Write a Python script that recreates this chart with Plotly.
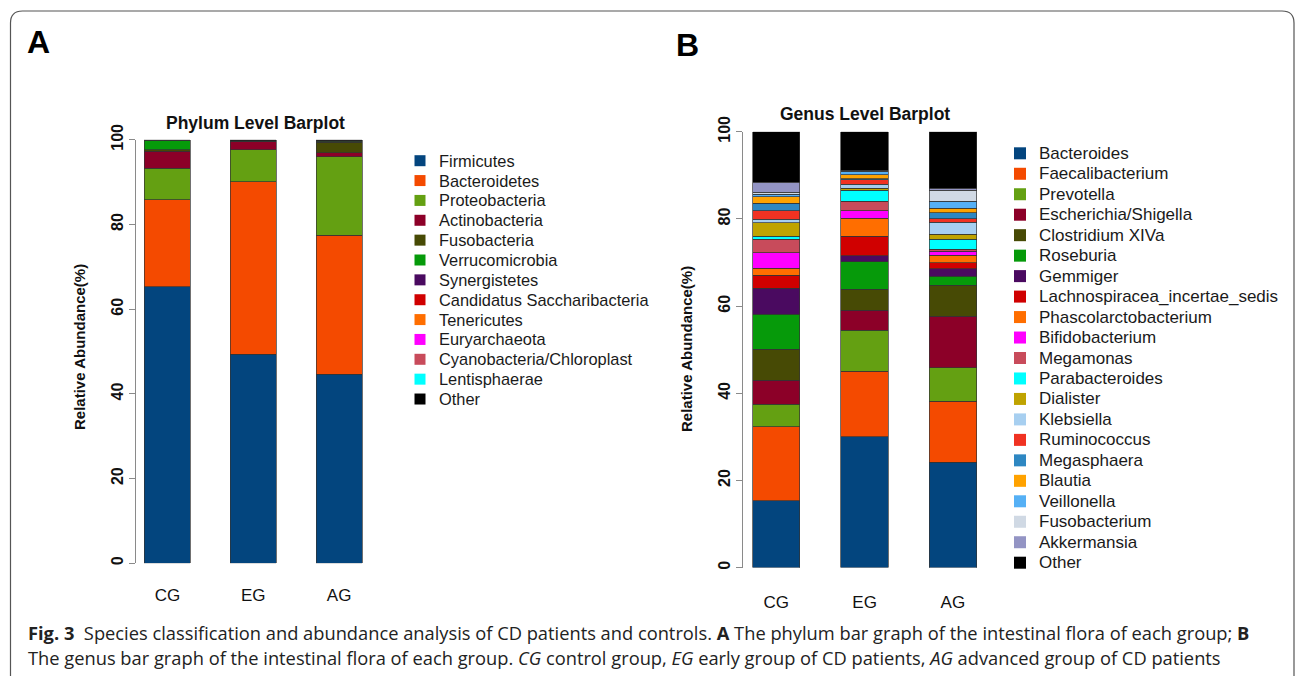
import plotly.graph_objects as go

W, H = 1295, 676

groups = ["CG", "EG", "AG"]

phyla = ["Firmicutes", "Bacteroidetes", "Proteobacteria", "Actinobacteria", "Fusobacteria",
         "Verrucomicrobia", "Synergistetes", "Candidatus Saccharibacteria", "Tenericutes",
         "Euryarchaeota", "Cyanobacteria/Chloroplast", "Lentisphaerae", "Other"]
phylum_colors = ["#03457e", "#f44a00", "#64a012", "#8c0028", "#474a05", "#069a0a", "#4a0a60",
                 "#d00000", "#ff6e00", "#ff00ff", "#c84b5b", "#00ffff", "#000000"]
phylum_cg = [65.3, 20.5, 7.5, 4.0, 0.4, 2.1, 0.02, 0.02, 0.03, 0.02, 0.01, 0.0, 0.1]
phylum_eg = [49.4, 40.7, 7.5, 2.0, 0.1, 0.02, 0.01, 0.02, 0.02, 0.01, 0.01, 0.0, 0.2]
phylum_ag = [44.7, 32.8, 18.5, 1.0, 2.4, 0.3, 0.02, 0.03, 0.01, 0.01, 0.01, 0.01, 0.2]

genera = ["Bacteroides", "Faecalibacterium", "Prevotella", "Escherichia/Shigella", "Clostridium XIVa",
          "Roseburia", "Gemmiger", "Lachnospiracea_incertae_sedis", "Phascolarctobacterium",
          "Bifidobacterium", "Megamonas", "Parabacteroides", "Dialister", "Klebsiella",
          "Ruminococcus", "Megasphaera", "Blautia", "Veillonella", "Fusobacterium",
          "Akkermansia", "Other"]
genus_colors = ["#03457e", "#f44a00", "#64a012", "#8c0028", "#474a05", "#069a0a", "#4a0a60",
                "#d00000", "#ff6e00", "#ff00ff", "#c84b5b", "#00ffff", "#bfa300", "#a7cff0",
                "#f03222", "#2e87c2", "#ffa200", "#55b0f5", "#d0d9e4", "#9394c4", "#000000"]
genus_cg = [15.3, 17.0, 5.2, 5.5, 7.1, 8.0, 6.0, 3.0, 1.6, 3.6, 3.0, 0.7, 3.1, 0.8, 2.0, 1.7,
            1.5, 0.6, 0.4, 2.3, 11.6]
genus_eg = [30.0, 15.0, 9.5, 4.5, 4.9, 6.3, 1.4, 4.4, 4.2, 1.7, 2.2, 2.5, 0.4, 1.0, 1.0, 0.2,
            0.9, 0.9, 0.1, 0.05, 8.85]
genus_ag = [24.2, 14.0, 7.7, 11.8, 7.1, 2.0, 1.8, 1.4, 1.7, 0.9, 0.4, 2.3, 1.2, 2.8, 0.7, 1.4,
            1.1, 1.6, 2.5, 0.4, 13.0]

y_ticks = [0, 20, 40, 60, 80, 100]

FONT = "Liberation Sans"
BAR_W = 0.536


def px(x):
    return x / W


def py(y):
    return 1 - y / H


fig = go.Figure()

for i, name in enumerate(phyla):
    fig.add_trace(go.Bar(
        x=[0, 1, 2], y=[phylum_cg[i], phylum_eg[i], phylum_ag[i]], name=name,
        marker=dict(color=phylum_colors[i], line=dict(color="#333333", width=0.7)),
        width=BAR_W, xaxis="x", yaxis="y", showlegend=False))

for i, name in enumerate(genera):
    fig.add_trace(go.Bar(
        x=[0, 1, 2], y=[genus_cg[i], genus_eg[i], genus_ag[i]], name=name,
        marker=dict(color=genus_colors[i], line=dict(color="#333333", width=0.7)),
        width=BAR_W, xaxis="x2", yaxis="y2", showlegend=False))

yaxis_common = dict(range=[0, 100], showline=True, linecolor="#8a8a8a", linewidth=1.2,
                    ticks="outside", ticklen=6, tickcolor="#8a8a8a", tickwidth=1.2,
                    tickvals=y_ticks, tickangle=-90, showgrid=False, zeroline=False,
                    automargin=False,
                    tickfont=dict(family=FONT, size=16, color="#111", weight="bold"),
                    ticklabelstandoff=0)
xaxis_common = dict(tickvals=[0, 1, 2], ticktext=groups, ticks="", showline=False,
                    showgrid=False, zeroline=False, automargin=False,
                    tickfont=dict(family=FONT, size=17, color="#111"))

fig.update_layout(
    template="none",
    width=W, height=H, autosize=False,
    margin=dict(l=0, r=0, t=0, b=0, pad=0, autoexpand=False),
    paper_bgcolor="white", plot_bgcolor="white",
    barmode="stack", showlegend=False,
    xaxis=dict(domain=[px(136), px(382)], range=[-0.367, 2.5], anchor="y",
               ticklabelstandoff=20, **xaxis_common),
    yaxis=dict(domain=[py(563.3), py(139.8)], anchor="x", **yaxis_common),
    xaxis2=dict(domain=[px(743), px(997)], range=[-0.377, 2.5], anchor="y2",
                ticklabelstandoff=22, **xaxis_common),
    yaxis2=dict(domain=[py(567.6), py(131.8)], anchor="x2", **yaxis_common),
)

ann = []
shapes = []


def text_at(t, x, y, size, angle=0, family=FONT, color="#111", xanchor="center"):
    ann.append(dict(text=t, x=px(x), y=py(y), xref="paper", yref="paper",
                    xanchor=xanchor, yanchor="middle", showarrow=False, textangle=angle,
                    font=dict(family=family, size=size, color=color)))


# Panel letters and titles
text_at("<b>A</b>", 38.5, 42, 32, color="#000")
text_at("<b>B</b>", 687.5, 45.5, 32, color="#000")
text_at("<b>Phylum Level Barplot</b>", 255, 123, 17.5)
text_at("<b>Genus Level Barplot</b>", 865, 114, 17.5)
text_at("<b>Relative Abundance(%)</b>", 79, 347, 15, angle=-90)
text_at("<b>Relative Abundance(%)</b>", 686, 349, 15, angle=-90)


def add_legend(names, colors, sq_cx, text_x, y0, dy, sq, size):
    for i, (n, c) in enumerate(zip(names, colors)):
        yc = y0 + dy * i
        shapes.append(dict(type="rect", xref="paper", yref="paper",
                           x0=px(sq_cx - sq / 2), x1=px(sq_cx + sq / 2),
                           y0=py(yc + sq / 2), y1=py(yc - sq / 2),
                           fillcolor=c, line=dict(width=0)))
        text_at(n, text_x, yc, size, color="#1a1a1a", xanchor="left")


add_legend(phyla, phylum_colors, 420, 437, 160.7, 19.86, 11, 16.4)
add_legend(genera, genus_colors, 1020, 1037, 153.3, 20.47, 12, 17)

# Caption
cap1 = ("<b>Fig. 3</b>  Species classification and abundance analysis of CD patients and controls. "
        "<b>A</b> The phylum bar graph of the intestinal flora of each group; <b>B</b>")
cap2 = ("The genus bar graph of the intestinal flora of each group. <i>CG</i> control group, "
        "<i>EG</i> early group of CD patients, <i>AG</i> advanced group of CD patients")
text_at(cap1, 26, 632, 18.3, family="Open Sans", color="#222", xanchor="left")
text_at(cap2, 26, 657, 18.3, family="Open Sans", color="#222", xanchor="left")

# Rounded frame
L, T, R, B, r = 10.5, 11.0, 1294.0, 690.0, 12.0
path = (f"M {px(L)},{py(B)} L {px(L)},{py(T + r)} Q {px(L)},{py(T)} {px(L + r)},{py(T)} "
        f"L {px(R - r)},{py(T)} Q {px(R)},{py(T)} {px(R)},{py(T + r)} L {px(R)},{py(B)}")
shapes.append(dict(type="path", xref="paper", yref="paper", path=path,
                   line=dict(color="#555555", width=1.2)))

fig.update_layout(annotations=ann, shapes=shapes)

fig.write_html("out.html", config={"displayModeBar": False},
               post_script="document.body.style.margin='0';")
